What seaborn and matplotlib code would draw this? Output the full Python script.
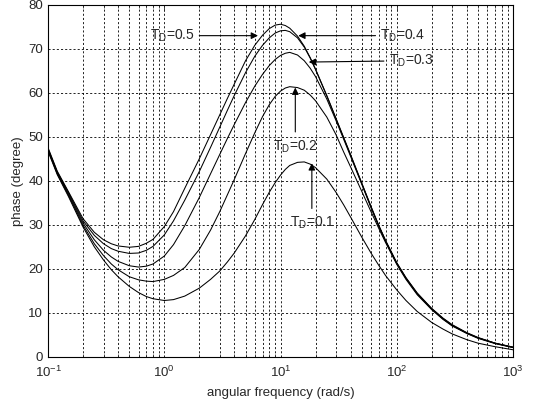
import numpy as np
import pandas as pd
import matplotlib
matplotlib.use("Agg")
import matplotlib.pyplot as plt
import seaborn as sns
from matplotlib.ticker import LogLocator

# angular frequency sample points (rad/s)
omega = [0.1, 0.12, 0.15, 0.2, 0.25, 0.3, 0.35, 0.4, 0.5, 0.6, 0.7, 0.8, 1.0, 1.2, 1.5,
         2, 2.5, 3, 3.5, 4, 5, 6, 7, 8, 9, 10, 11, 12, 14, 16, 18, 20, 25, 30, 35, 40,
         50, 60, 70, 80, 100, 120, 150, 200, 250, 300, 400, 500, 700, 1000]

td_labels = ["0.5", "0.4", "0.3", "0.2", "0.1"]

phase_td05 = [47.5, 42.2, 37.5, 31.4, 28.3, 26.6, 25.7, 25.2, 24.9, 25.1, 25.8, 26.7, 29.6, 33.0, 38.3,
              45.0, 50.5, 55.0, 58.8, 62.0, 67.3, 70.8, 73.1, 74.6, 75.4, 75.6, 75.3, 74.7, 72.9, 70.6,
              68.0, 65.4, 59.4, 54.2, 49.8, 46.0, 39.5, 34.2, 29.9, 26.5, 21.4, 18.0, 14.5, 11.0, 8.8,
              7.3, 5.5, 4.4, 3.1, 2.2]
phase_td04 = [47.3, 42.0, 37.3, 30.9, 27.6, 25.7, 24.6, 24.0, 23.5, 23.6, 24.2, 25.1, 27.7, 30.9, 35.6,
              42.1, 47.6, 52.2, 56.1, 59.4, 64.6, 68.3, 70.8, 72.5, 73.6, 74.1, 74.2, 73.9, 72.5, 70.4,
              67.9, 65.3, 59.3, 54.1, 49.7, 45.9, 39.4, 34.1, 29.8, 26.4, 21.3, 17.9, 14.4, 10.9, 8.7,
              7.2, 5.4, 4.3, 3.1, 2.2]
phase_td03 = [47.1, 41.8, 37.0, 30.4, 26.6, 24.2, 22.7, 21.7, 20.7, 20.4, 20.6, 21.1, 22.9, 25.5, 29.8,
              36.2, 41.6, 46.0, 49.7, 52.8, 57.8, 61.5, 64.2, 66.2, 67.6, 68.5, 69.0, 69.2, 68.6, 67.3,
              65.6, 63.7, 58.6, 53.7, 49.4, 45.6, 39.2, 33.9, 29.7, 26.3, 21.2, 17.8, 14.3, 10.8, 8.6,
              7.1, 5.4, 4.3, 3.1, 2.1]
phase_td02 = [46.9, 41.6, 36.7, 29.9, 25.7, 23.0, 21.1, 19.8, 18.2, 17.5, 17.2, 17.1, 17.6, 18.5, 20.3,
              24.4, 28.8, 33.0, 36.9, 40.3, 46.2, 50.9, 54.6, 57.3, 59.2, 60.4, 61.1, 61.4, 61.2, 60.6,
              59.5, 58.2, 54.5, 50.5, 46.5, 43.2, 37.6, 33.0, 29.2, 26.0, 21.0, 17.6, 14.1, 10.7, 8.5,
              7.0, 5.3, 4.2, 3.0, 2.1]
phase_td01 = [46.7, 41.4, 36.4, 29.5, 25.0, 22.0, 19.8, 18.2, 16.0, 14.6, 13.7, 13.2, 12.8, 13.0, 13.8,
              15.6, 17.6, 19.5, 21.6, 23.6, 27.5, 31.2, 34.6, 37.4, 39.6, 41.3, 42.6, 43.5, 44.2, 44.3,
              43.8, 43.0, 40.4, 37.4, 34.5, 31.8, 27.2, 23.6, 20.8, 18.5, 15.2, 12.8, 10.3, 7.8, 6.3,
              5.2, 3.9, 3.1, 2.3, 1.6]

series = [phase_td05, phase_td04, phase_td03, phase_td02, phase_td01]
frames = []
for lab, vals in zip(td_labels, series):
    frames.append(pd.DataFrame({"omega": omega, "phase": vals, "TD": lab}))
df = pd.concat(frames, ignore_index=True)

sns.set_style("white")
plt.rcParams["font.family"] = ["Liberation Sans", "DejaVu Sans"]
plt.rcParams["mathtext.fontset"] = "custom"
plt.rcParams["mathtext.rm"] = "Liberation Sans"
plt.rcParams["mathtext.it"] = "Liberation Sans"

fig = plt.figure(figsize=(5.4, 4.05), dpi=100)
ax = fig.add_axes([0.089, 0.119, 0.861, 0.869])

sns.lineplot(data=df, x="omega", y="phase", hue="TD", palette=["black"] * 5,
             linewidth=0.75, legend=False, ax=ax, sort=False, estimator=None)

ax.set_xscale("log")
ax.set_xlim(0.1, 1000)
ax.set_ylim(0, 80)
ax.set_yticks(range(0, 81, 10))
ax.xaxis.set_major_locator(LogLocator(base=10, numticks=10))
ax.xaxis.set_minor_locator(LogLocator(base=10, subs=np.arange(2, 10), numticks=20))

grid_kw = dict(color="black", linestyle=(0, (2.5, 2.5)), linewidth=0.6)
ax.grid(True, which="major", axis="both", **grid_kw)
ax.grid(True, which="minor", axis="x", **grid_kw)

ax.tick_params(axis="both", which="major", direction="in", length=4, width=0.6,
               labelsize=9.5, top=True, right=True)
ax.tick_params(axis="x", which="major", pad=6)
ax.tick_params(axis="x", which="minor", direction="in", length=2, width=0.5,
               top=True, bottom=True, labelbottom=False)
for sp in ax.spines.values():
    sp.set_linewidth(0.8)
    sp.set_color("black")

ax.set_xlabel("angular frequency (rad/s)", fontsize=9.5, labelpad=5)
ax.set_ylabel("phase (degree)", fontsize=9.5, labelpad=3)

arrow = dict(arrowstyle="-|>", color="black", lw=0.8, mutation_scale=10, shrinkA=1, shrinkB=0)
fs = 10
ax.annotate(r"T$_{\mathrm{D}}$=0.5", xy=(6.4, 73.0), xytext=(0.75, 73.0),
            fontsize=fs, ha="left", va="center", arrowprops=arrow)
ax.annotate(r"T$_{\mathrm{D}}$=0.4", xy=(14.2, 73.0), xytext=(72, 73.0),
            fontsize=fs, ha="left", va="center", arrowprops=arrow)
ax.annotate(r"T$_{\mathrm{D}}$=0.3", xy=(17.5, 67.0), xytext=(85, 67.3),
            fontsize=fs, ha="left", va="center", arrowprops=arrow)
ax.annotate("", xy=(13.4, 61.2), xytext=(13.4, 50.8), arrowprops=arrow)
ax.text(13.4, 47.8, r"T$_{\mathrm{D}}$=0.2", fontsize=fs, ha="center", va="center")
ax.annotate("", xy=(18.6, 44.0), xytext=(18.6, 33.4), arrowprops=arrow)
ax.text(18.6, 30.5, r"T$_{\mathrm{D}}$=0.1", fontsize=fs, ha="center", va="center")

fig.savefig("out.png", dpi=100)
